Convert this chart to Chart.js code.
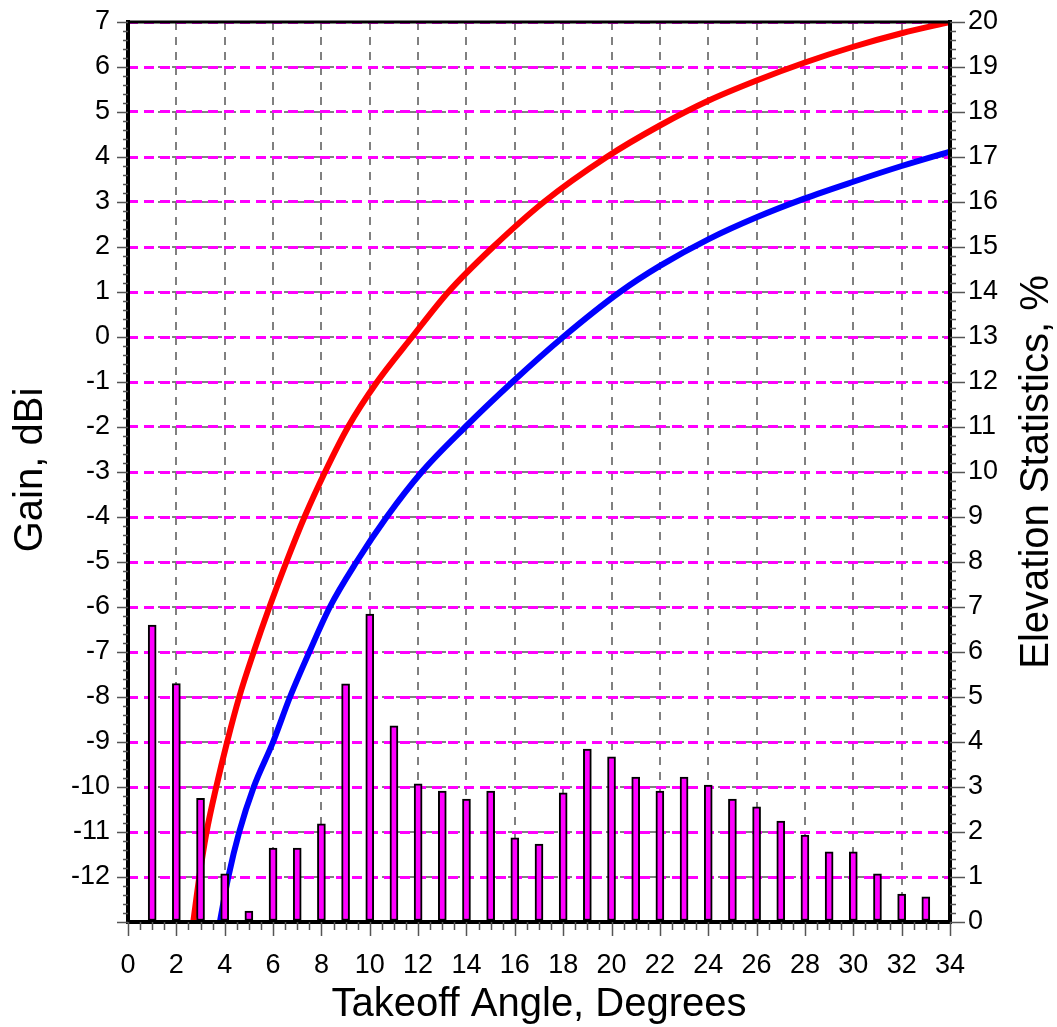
<!DOCTYPE html>
<html>
<head>
<meta charset="utf-8">
<script src="https://cdn.jsdelivr.net/npm/chart.js@4/dist/chart.umd.min.js"></script>
<style>
html, body { margin: 0; padding: 0; background: #fff; overflow: hidden; }
#wrap { width: 1057px; height: 1027px; }
</style>
</head>
<body>
<div id="wrap"><canvas id="chart"></canvas></div>
<script>
// Elevation statistics, % (right axis), one bar per degree
let barAngles = [1, 2, 3, 4, 5, 6, 7, 8, 9, 10, 11, 12, 13, 14, 15, 16, 17,
                 18, 19, 20, 21, 22, 23, 24, 25, 26, 27, 28, 29, 30, 31, 32, 33];
let barPercent = [6.6, 5.3, 2.75, 1.07, 0.24, 1.64, 1.64, 2.18, 5.29, 6.84, 4.36, 3.07, 2.91, 2.73, 2.91, 1.87, 1.73,
                  2.87, 3.84, 3.67, 3.22, 2.91, 3.22, 3.04, 2.73, 2.56, 2.24, 1.93, 1.56, 1.56, 1.07, 0.62, 0.56];

// Gain curves, dBi (left axis)
let redAngles = [2.7, 2.95, 3.25, 3.65, 4.1, 4.6, 5.2, 5.85, 6.55, 7.3, 8.15, 9.1, 10.3, 11.75, 13.25, 15.1, 17.2, 19.8,
                 22, 24, 26, 28, 30, 32, 34];
let redGain = [-13, -12, -11, -10, -9, -8, -7, -6, -5, -4, -3, -2, -1, 0, 1, 2, 3, 4,
               4.7, 5.25, 5.7, 6.1, 6.45, 6.75, 7.0];

let blueAngles = [3.8, 4.15, 4.6, 5.2, 6.0, 6.7, 7.5, 8.35, 9.45, 10.7, 12.15, 13.95, 15.9, 18.0, 20.35,
                  22, 24, 26, 28, 30, 32, 34];
let blueGain = [-13, -12, -11, -10, -9, -8, -7, -6, -5, -4, -3, -2, -1, 0, 1,
                1.58, 2.17, 2.66, 3.08, 3.45, 3.8, 4.12];

let toPoints = function(xs, ys) {
    return xs.map((x, i) => ({x: x, y: ys[i]}));
}

let titleFont = '40px "Liberation Sans", Arial, sans-serif';

// minor/major tick marks, top frame line and the three axis titles
let axisDecorPlugin = {
    id: 'axisDecor',
    afterDraw: function(chart) {
        let ctx = chart.ctx;
        let area = chart.chartArea;
        let xs = chart.scales.x;
        let ys = chart.scales.y;
        let ys2 = chart.scales.y2;

        ctx.save();
        ctx.strokeStyle = '#555';
        ctx.lineWidth = 1.5;
        ctx.beginPath();
        for (let i = 0; i <= 68; i++) {
            let px = Math.round(xs.getPixelForValue(i / 2)) + 0.5;
            let len = (i % 4 == 0) ? 14 : 8;
            ctx.moveTo(px, area.bottom);
            ctx.lineTo(px, area.bottom + len);
        }
        for (let i = 0; i <= 100; i++) {
            let py = Math.round(ys.getPixelForValue(-13 + i * 0.2)) + 0.5;
            let len = (i % 5 == 0) ? 11 : 5;
            ctx.moveTo(area.left, py);
            ctx.lineTo(area.left - len, py);
        }
        for (let i = 0; i <= 100; i++) {
            let py = Math.round(ys2.getPixelForValue(i * 0.2)) + 0.5;
            let len = (i % 5 == 0) ? 15 : 6;
            ctx.moveTo(area.right, py);
            ctx.lineTo(area.right + len, py);
        }
        ctx.stroke();

        // top frame
        ctx.strokeStyle = '#000';
        ctx.lineWidth = 3;
        ctx.beginPath();
        ctx.moveTo(area.left, area.top);
        ctx.lineTo(area.right, area.top);
        ctx.stroke();

        ctx.fillStyle = '#000';
        ctx.font = titleFont;
        ctx.textAlign = 'center';
        ctx.textBaseline = 'middle';
        ctx.fillText('Takeoff Angle, Degrees', (area.left + area.right) / 2, 1005);

        ctx.save();
        ctx.translate(31, 470);
        ctx.rotate(-Math.PI / 2);
        ctx.fillText('Gain, dBi', 0, 0);
        ctx.restore();

        ctx.save();
        ctx.translate(1037, 472);
        ctx.rotate(-Math.PI / 2);
        ctx.fillText('Elevation Statistics, %', 0, 0);
        ctx.restore();

        ctx.restore();
    }
}

let main = function() {
    Chart.defaults.font.family = '"Liberation Sans", Arial, sans-serif';
    Chart.defaults.font.size = 27;
    Chart.defaults.color = '#000';

    const ctx = document.getElementById('chart');
    new Chart(ctx, {
        type: 'line',
        data: {
            datasets: [
                {
                    type: 'bar',
                    label: 'Elevation Statistics',
                    data: toPoints(barAngles, barPercent),
                    xAxisID: 'x',
                    yAxisID: 'y2',
                    backgroundColor: '#ff00ff',
                    borderColor: '#000',
                    borderWidth: 2,
                    borderSkipped: false,
                    barThickness: 8
                },
                {
                    label: 'Red',
                    data: toPoints(redAngles, redGain),
                    yAxisID: 'y',
                    borderColor: '#ff0000',
                    borderWidth: 6,
                    pointRadius: 0,
                    cubicInterpolationMode: 'monotone',
                    fill: false
                },
                {
                    label: 'Blue',
                    data: toPoints(blueAngles, blueGain),
                    yAxisID: 'y',
                    borderColor: '#0000ff',
                    borderWidth: 6,
                    pointRadius: 0,
                    cubicInterpolationMode: 'monotone',
                    fill: false
                }
            ]
        },
        options: {
            responsive: true,
            maintainAspectRatio: false,
            animation: false,
            layout: { padding: { top: 22, left: 0, right: 0, bottom: 0 } },
            plugins: {
                legend: { display: false },
                tooltip: { enabled: false }
            },
            scales: {
                x: {
                    type: 'linear',
                    min: 0,
                    max: 34,
                    offset: false,
                    afterFit: function(scale) {
                        scale.height = 105;
                        scale.paddingLeft = 0;
                        scale.paddingRight = 0;
                    },
                    ticks: { stepSize: 2, autoSkip: false, padding: 27, maxRotation: 0 },
                    grid: { color: '#808080', lineWidth: 2, drawTicks: false, offset: false, z: -2 },
                    border: { color: '#000', width: 4, dash: [8, 7], z: 1 }
                },
                y: {
                    type: 'linear',
                    position: 'left',
                    min: -13,
                    max: 7,
                    afterFit: function(scale) {
                        scale.width = 128;
                        scale.paddingTop = 0;
                        scale.paddingBottom = 0;
                    },
                    ticks: {
                        stepSize: 1,
                        autoSkip: false,
                        padding: 18,
                        callback: function(value) { return value == -13 ? '' : value; }
                    },
                    grid: { color: '#808080', lineWidth: 2, drawTicks: false, z: -2 },
                    border: { color: '#000', width: 4, dash: [8, 6], z: 1 }
                },
                y2: {
                    type: 'linear',
                    position: 'right',
                    min: 0,
                    max: 20,
                    afterFit: function(scale) {
                        scale.width = 107;
                        scale.paddingTop = 0;
                        scale.paddingBottom = 0;
                    },
                    ticks: { stepSize: 1, autoSkip: false, padding: 18 },
                    grid: { color: '#ff00ff', lineWidth: 3, drawTicks: false, z: -1 },
                    border: { color: '#000', width: 4, dash: [10, 6], z: 1 }
                }
            }
        },
        plugins: [axisDecorPlugin]
    });
}

window.onload = main;
</script>
</body>
</html>
